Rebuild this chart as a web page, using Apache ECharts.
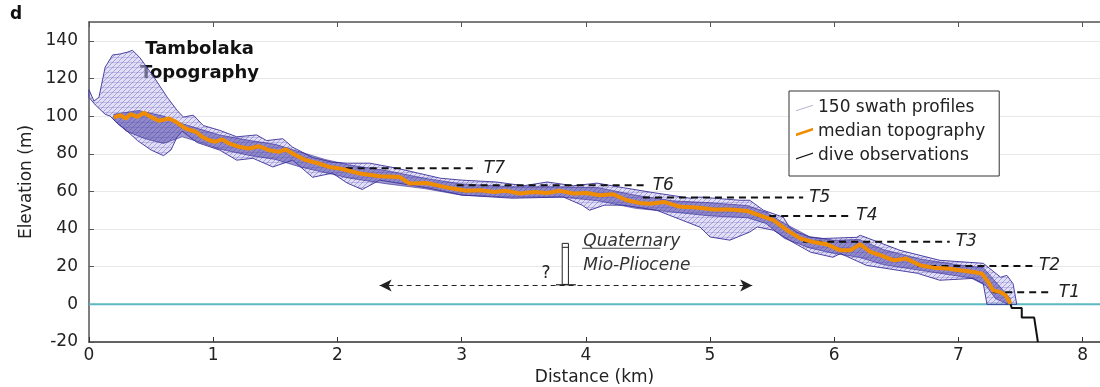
<!DOCTYPE html>
<html>
<head>
<meta charset="utf-8">
<script src="https://cdn.jsdelivr.net/npm/echarts@6/dist/echarts.min.js"></script>
<style>
html,body{margin:0;padding:0;background:#fff;}
#chart{width:1100px;height:387px;}
</style>
</head>
<body>
<div id="chart"></div>
<script>
// distance (km), elevation (m)
const median = [
  [0.20,99.3],[0.255,100.5],[0.295,98.7],[0.335,101],[0.39,99.6],[0.443,101.8],[0.497,99.6],[0.564,97.5],
  [0.644,98.7],[0.698,97],[0.778,93.4],[0.859,91.7],[0.912,89],[0.966,87.2],[1.02,86.4],[1.073,87.6],
  [1.127,85.5],[1.208,83.7],[1.288,82.8],[1.369,84],[1.449,81.9],[1.53,81],[1.583,82.3],[1.664,79.2],
  [1.744,76.6],[1.852,74.8],[1.932,73],[2.02,72.2],[2.18,69.5],[2.34,68.1],[2.50,67.7],[2.58,64.2],
  [2.72,64.5],[2.83,62.8],[2.93,61.5],[3.04,60.3],[3.15,60.6],[3.26,59.7],[3.36,60.3],[3.47,58.9],
  [3.58,59.7],[3.69,59.2],[3.79,60.3],[3.90,58.9],[4.01,59.2],[4.11,58],[4.22,58.5],[4.33,55.3],
  [4.43,53.9],[4.52,53.5],[4.63,54.4],[4.76,51.8],[4.89,51.4],[5.03,50.4],[5.16,50.4],[5.30,49.6],
  [5.40,47.3],[5.51,44.7],[5.62,39.4],[5.73,34.9],[5.83,33.1],[5.94,31.9],[6.05,28.7],[6.13,28.7],
  [6.21,31.9],[6.29,27.9],[6.37,26.1],[6.48,23.4],[6.58,24.3],[6.69,20.8],[6.80,19.5],[6.91,19],
  [7.01,18.1],[7.12,17.2],[7.19,16.3],[7.24,11.9],[7.28,7.4],[7.34,6.5],[7.38,4.8],[7.42,0.4]
];
const swathTop = [
  [0,114],[0.04,108],[0.08,110],[0.13,126],[0.19,132.5],[0.25,133],[0.31,134],[0.35,135],
  [0.41,131],[0.52,121],[0.63,110],[0.71,103],[0.76,99.5],[0.84,100.5],[0.92,95],[1.05,92.5],
  [1.19,89],[1.35,90],[1.43,87],[1.56,88],[1.64,83.5],[1.80,78],[1.96,75.5],[2.08,75],
  [2.26,75],[2.48,72.3],[2.83,67],[3.0,66],[3.28,65],[3.5,63],[3.69,65],[3.9,63],
  [4.09,64.4],[4.30,62],[4.52,59.6],[4.84,56.4],[4.92,57],[5.24,55.3],[5.32,55.3],[5.43,50],
  [5.59,46.3],[5.64,41],[5.70,38.3],[5.81,35.6],[5.91,35],[6.18,35.6],[6.21,36.7],[6.53,28.7],
  [6.85,23.4],[7.20,21.8],[7.34,14.4],[7.39,15.4],[7.44,11],[7.47,0]
];
const swathBottom = [
  [0,110],[0.05,106],[0.13,101],[0.17,100],[0.23,96],[0.3,92.5],[0.39,87],[0.5,82],
  [0.6,79],[0.66,82],[0.71,89],[0.75,92],[0.87,86],[1.05,82],[1.19,76.6],[1.32,77.6],
  [1.48,73],[1.64,76.6],[1.80,67.5],[1.96,69.7],[2.08,64.4],[2.2,61],[2.34,66],[2.74,61.7],
  [3.01,58],[3.41,56.4],[3.82,57],[3.97,52.7],[4.03,50],[4.15,52.7],[4.30,52.7],[4.57,50],
  [4.92,41],[5.0,35.8],[5.16,34.1],[5.32,38.4],[5.38,41.1],[5.51,39.4],[5.64,34],[5.81,27.7],
  [5.99,25],[6.05,27],[6.26,20.7],[6.67,16.5],[6.85,12.8],[7.12,13.8],[7.20,11],[7.23,0]
];
// dense (dark) part of the swath
const coreTop = [
  [0.2,101],[0.4,103],[0.6,100],[0.75,96],[0.9,93],[1.05,90],[1.3,87],[1.5,85],
  [1.7,81],[1.9,77],[2.1,74],[2.4,71],[2.7,67],[3.0,64],[3.4,62.5],[3.8,62.5],
  [4.1,62],[4.4,58],[4.7,55],[5.0,54],[5.3,52.5],[5.45,49],[5.6,43],[5.8,36],
  [6.0,34],[6.2,34.5],[6.4,29],[6.7,24],[7.0,21],[7.2,19.5],[7.3,12],[7.42,3]
];
const coreBottom = [
  [0.2,98],[0.3,92],[0.45,88],[0.6,85.5],[0.75,89],[0.9,86],[1.05,82.5],[1.3,79],
  [1.5,77],[1.7,73],[1.9,70],[2.1,67],[2.4,64],[2.7,61.5],[3.0,58],[3.4,57],
  [3.8,57],[4.1,55],[4.4,51],[4.7,49],[5.0,47],[5.3,46],[5.45,43],[5.6,35],
  [5.8,30],[6.0,27],[6.2,25],[6.4,21],[6.6,19],[6.9,16],[7.1,14],[7.22,10],[7.3,3],[7.4,0]
];
const dive = [[7.42,0],[7.43,-2],[7.51,-2],[7.51,-7],[7.61,-7],[7.64,-20]];

const terraceNames = ['T1','T2','T3','T4','T5','T6','T7'];
const terraceLevels = [6.4,20.4,33.3,47,56.7,63.3,72.3];
const terraceFrom = [7.28,6.67,5.75,5.38,4.46,2.96,1.97];
const terraceTo = [7.76,7.60,6.93,6.13,5.75,4.49,3.13];

const xMax = 8.14;
const FONT = 'DejaVu Sans';
const swathPolygon = swathTop.concat(swathBottom.slice().reverse());
const corePolygon = coreTop.concat(coreBottom.slice().reverse());

// fine mesh texture for the swath
const mesh = document.createElement('canvas');
mesh.width = 5; mesh.height = 5;
(function () {
  const c = mesh.getContext('2d');
  c.strokeStyle = 'rgba(70,60,175,0.55)';
  c.lineWidth = 0.7;
  c.beginPath(); c.moveTo(0, 5); c.lineTo(5, 0); c.stroke();
  c.strokeStyle = 'rgba(70,60,175,0.3)';
  c.beginPath(); c.moveTo(0, 2.5); c.lineTo(5, 2.5); c.stroke();
})();

const chart = echarts.init(document.getElementById('chart'));

const terraceSeries = terraceNames.map(function (t, i) {
  return {
    type: 'line',
    name: t,
    data: [[terraceFrom[i], terraceLevels[i]], [terraceTo[i], terraceLevels[i]]],
    symbol: 'none',
    silent: true,
    z: 4,
    lineStyle: {color: '#111', width: 2, type: [7, 5]},
    endLabel: {show: true, distance: 6, formatter: t,
               fontFamily: FONT, fontSize: 17, fontStyle: 'italic', color: '#222'}
  };
});

function polygonItem(points, style) {
  return function (params, api) {
    if (params.dataIndex !== 0) return null;
    const pts = points.map(function (p) { return api.coord(p); });
    return {type: 'group', children: style.map(function (s) {
      return {type: 'polygon', shape: {points: pts}, style: s};
    })};
  };
}

const option = {
  animation: false,
  grid: {left: 89, right: 1100 - 89 - Math.round(xMax * 124.2), top: 22, bottom: 45,
         outerBoundsMode: 'none'},
  legend: {
    data: [
      {name: '150 swath profiles', icon: 'path://M0,9 L18,3 L18,4 L0,10 Z', itemStyle: {color: '#b4b4cc'}},
      {name: 'median topography', icon: 'path://M0,8 L18,2 L18,5 L0,11 Z', itemStyle: {color: '#f08c00'}},
      {name: 'dive observations', icon: 'path://M0,9 L18,3 L18,4.2 L0,10.2 Z', itemStyle: {color: '#111'}}
    ],
    orient: 'vertical',
    left: 789, top: 91,
    itemWidth: 17, itemHeight: 10, itemGap: 4,
    padding: [7, 14, 10, 7],
    borderColor: '#333', borderWidth: 1, borderRadius: 0,
    backgroundColor: '#fff',
    textStyle: {fontFamily: FONT, fontSize: 17, color: '#222', lineHeight: 20},
    selectedMode: false
  },
  xAxis: [{
    type: 'value', min: 0, max: xMax, interval: 1,
    name: 'Distance (km)', nameLocation: 'middle', nameGap: 24,
    nameTextStyle: {fontFamily: FONT, fontSize: 17, color: '#222'},
    axisLine: {onZero: false, lineStyle: {color: '#333', width: 1.5}},
    axisTick: {inside: true, length: 5, lineStyle: {color: '#333'}},
    axisLabel: {fontFamily: FONT, fontSize: 17, color: '#222', margin: 5, showMaxLabel: false,
                formatter: function (v) { return Number.isInteger(v) ? String(v) : ''; }},
    splitLine: {show: false}
  }, {
    type: 'value', min: 0, max: xMax, interval: 1, position: 'top',
    axisLine: {onZero: false, lineStyle: {color: '#555', width: 1.5}},
    axisTick: {inside: true, length: 5, lineStyle: {color: '#555'}},
    axisLabel: {show: false},
    splitLine: {show: false}
  }],
  yAxis: {
    type: 'value', min: -20, max: 150, interval: 20,
    name: 'Elevation (m)', nameLocation: 'middle', nameGap: 53,
    nameTextStyle: {fontFamily: FONT, fontSize: 17, color: '#222'},
    axisLine: {show: true, onZero: false, lineStyle: {color: '#555', width: 1.5}},
    axisTick: {show: true, inside: true, length: 5, lineStyle: {color: '#555'}},
    axisLabel: {fontFamily: FONT, fontSize: 17, color: '#222', margin: 11, showMaxLabel: false},
    splitLine: {lineStyle: {color: '#e8e8e8', width: 1.2}}
  },
  series: [
    {
      type: 'line', name: 'sea level', data: [[0, 0], [xMax, 0]],
      symbol: 'none', silent: true, z: 1,
      lineStyle: {color: '#5cb8c2', width: 2}
    },
    {
      type: 'custom', name: '150 swath profiles', data: swathPolygon,
      encode: {x: 0, y: 1}, z: 2, silent: true,
      renderItem: polygonItem(swathPolygon, [
        {fill: 'rgba(200,196,236,0.55)', stroke: null},
        {fill: {image: mesh, repeat: 'repeat'}, stroke: '#3a3298', lineWidth: 0.9}
      ])
    },
    {
      type: 'custom', name: 'dense profiles', data: corePolygon,
      encode: {x: 0, y: 1}, z: 3, silent: true,
      renderItem: polygonItem(corePolygon, [
        {fill: 'rgba(62,52,160,0.5)', stroke: 'rgba(45,35,145,0.7)', lineWidth: 0.8}
      ])
    },
    {
      type: 'line', name: 'median topography', data: median,
      symbol: 'none', z: 5, silent: true,
      lineStyle: {color: '#f08c00', width: 4}
    },
    {
      type: 'line', name: 'dive observations', data: dive,
      symbol: 'none', z: 5, silent: true,
      lineStyle: {color: '#111', width: 2}
    },
    {
      type: 'line', name: 'extent arrow', data: [],
      markLine: {
        silent: true, symbol: ['arrow', 'arrow'], symbolSize: [9, 12],
        label: {show: false},
        lineStyle: {color: '#222', width: 1, type: [5, 4]},
        data: [[{coord: [2.34, 10]}, {coord: [5.34, 10]}]]
      }
    }
  ].concat(terraceSeries)
};

chart.setOption(option);

// annotations placed through the grid coordinate system
function px(p) { return chart.convertToPixel({gridIndex: 0}, p); }
const tTitle = px([0.89, 0]);
const qPos = px([3.98, 33.5]);
const mPos = px([3.98, 20.7]);
const sepA = px([3.97, 29.8]);
const sepB = px([4.6, 29.8]);
const qmPos = px([3.68, 16.5]);
const colA = px([3.81, 32.4]);
const colB = px([3.86, 10.6]);
const colCap = px([3.81, 30.3]);
const baseA = px([3.76, 10.4]);
const baseB = px([3.92, 10.4]);

chart.setOption({
  graphic: [
    {type: 'text', left: 10, top: 6,
     style: {text: 'd', font: 'bold 17px ' + FONT, fill: '#111'}},
    {type: 'text', x: tTitle[0], y: 37,
     style: {text: 'Tambolaka\nTopography', font: 'bold 18px ' + FONT, fill: '#111',
             align: 'center', lineHeight: 24}},
    {type: 'text', x: qPos[0], y: qPos[1],
     style: {text: 'Quaternary', font: 'italic 17px ' + FONT, fill: '#333', verticalAlign: 'middle'}},
    {type: 'text', x: mPos[0], y: mPos[1],
     style: {text: 'Mio-Pliocene', font: 'italic 17px ' + FONT, fill: '#333', verticalAlign: 'middle'}},
    {type: 'line', shape: {x1: sepA[0], y1: sepA[1], x2: sepB[0], y2: sepB[1]},
     style: {stroke: '#444', lineWidth: 1.2}},
    {type: 'text', x: qmPos[0], y: qmPos[1],
     style: {text: '?', font: '17px ' + FONT, fill: '#222', align: 'center', verticalAlign: 'middle'}},
    {type: 'rect', shape: {x: colA[0], y: colA[1], width: colB[0] - colA[0], height: colB[1] - colA[1]},
     style: {fill: '#fff', stroke: '#222', lineWidth: 1}},
    {type: 'line', shape: {x1: colA[0], y1: colCap[1], x2: colB[0], y2: colCap[1]},
     style: {stroke: '#222', lineWidth: 1}},
    {type: 'line', shape: {x1: baseA[0], y1: baseA[1], x2: baseB[0], y2: baseB[1]},
     style: {stroke: '#222', lineWidth: 1.2}}
  ]
});
</script>
</body>
</html>
